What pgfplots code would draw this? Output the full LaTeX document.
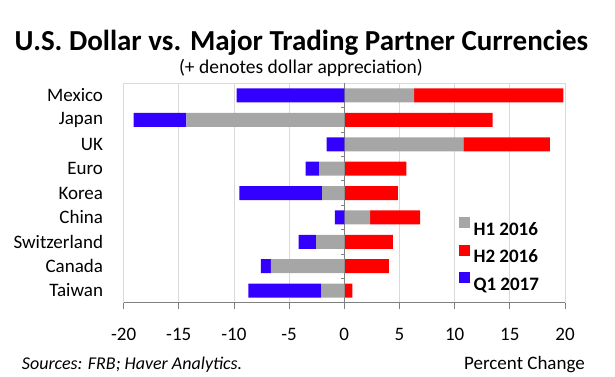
\documentclass[border=0pt]{standalone}
\usepackage{pgfplots}
\pgfplotsset{compat=1.18}
\usepackage{pgfplotstable}
\usepackage{fontspec}
\setmainfont{Carlito}
\definecolor{hgray}{RGB}{166,166,166}
\definecolor{hred}{RGB}{255,0,0}
\definecolor{qblue}{RGB}{51,0,255}
\definecolor{gridgray}{RGB}{217,217,217}
\definecolor{axgray}{RGB}{128,128,128}

\pgfplotstableread{
idx country H1 H2 Q1
0 Taiwan -2.10 0.73 -6.60
1 Canada -6.65 4.05 -0.90
2 Switzerland -2.55 4.40 -1.60
3 China 2.33 4.55 -0.85
4 Korea -2.00 4.85 -7.50
5 Euro -2.25 5.62 -1.25
6 UK 10.78 7.86 -1.60
7 Japan -14.30 13.45 -4.80
8 Mexico 6.32 13.53 -9.75
}\datatable

\pgfplotsset{basestyle/.style={scale only axis, width=441.4pt, height=219.4pt,
  xmin=-20, xmax=20, ymin=-0.5, ymax=8.5, xbar stacked, bar width=14pt}}

\begin{document}
\begin{tikzpicture}
\path[use as bounding box] (-123.6pt,-73.3pt) rectangle (491.4pt,302.7pt);
\begin{axis}[basestyle,
  xtick={-20,-15,...,20},
  xticklabels={-20,-15,-10,-5,0,5,10,15,20},
  ytick={0,...,8},
  yticklabels={Taiwan,Canada,Switzerland,China,Korea,Euro,UK,Japan,Mexico},
  xmajorgrids, grid style={gridgray, line width=0.8pt},
  axis line style={gridgray, line width=0.8pt},
  xtick pos=left, ytick style={draw=none},
  xtick style={axgray, line width=0.8pt},
  tick align=outside, major tick length=6pt,
  ticklabel style={font=\fontsize{19}{22}\selectfont},
  yticklabel style={anchor=east, inner sep=0pt, xshift=-14.4pt},
  xticklabel style={anchor=base, inner sep=0pt, yshift=-31.5pt},
  legend style={at={(rel axis cs:0.7583,0.3906)}, anchor=north west,
    draw=none, fill=none, inner sep=0pt, row sep=8pt, column sep=4pt,
    nodes={inner sep=0pt}, font=\fontsize{19}{22}\selectfont\bfseries},
  legend cell align=left,
  legend image code/.code={\path[#1] (0pt,1.4pt) rectangle (11pt,12.4pt);},
]
\addplot[fill=hgray, draw=none] table[x expr={max(\thisrow{H1},0)}, y=idx]{\datatable};
\addplot[fill=hred, draw=none] table[x expr={max(\thisrow{H2},0)}, y=idx]{\datatable};
\addplot[fill=qblue, draw=none] table[x expr={max(\thisrow{Q1},0)}, y=idx]{\datatable};
\legend{H1 2016, H2 2016, Q1 2017}
\end{axis}
\begin{axis}[basestyle, hide axis, clip=false]
\addplot[fill=hgray, draw=none] table[x expr={min(\thisrow{H1},0)}, y=idx]{\datatable};
\addplot[fill=hred, draw=none] table[x expr={min(\thisrow{H2},0)}, y=idx]{\datatable};
\addplot[fill=qblue, draw=none] table[x expr={min(\thisrow{Q1},0)}, y=idx]{\datatable};
\draw[axgray, line width=0.8pt] (axis cs:-20,-0.5) -- (axis cs:20,-0.5);
\draw[axgray, line width=0.8pt] (axis cs:0,-0.5) -- (axis cs:0,8.5);
\draw[axgray, line width=0.8pt] (axis cs:0,0.5) -- ++(-3pt,0pt);
\draw[axgray, line width=0.8pt] (axis cs:0,1.5) -- ++(-3pt,0pt);
\draw[axgray, line width=0.8pt] (axis cs:0,2.5) -- ++(-3pt,0pt);
\draw[axgray, line width=0.8pt] (axis cs:0,3.5) -- ++(-3pt,0pt);
\draw[axgray, line width=0.8pt] (axis cs:0,4.5) -- ++(-3pt,0pt);
\draw[axgray, line width=0.8pt] (axis cs:0,5.5) -- ++(-3pt,0pt);
\draw[axgray, line width=0.8pt] (axis cs:0,6.5) -- ++(-3pt,0pt);
\draw[axgray, line width=0.8pt] (axis cs:0,7.5) -- ++(-3pt,0pt);
\end{axis}
\node[anchor=base, font=\fontsize{29}{34}\selectfont\bfseries] at (177.9pt,252.7pt) {U.S. Dollar vs. Major Trading Partner Currencies};
\node[anchor=base, font=\fontsize{19.5}{22}\selectfont] at (177.4pt,229.7pt) {(+ denotes dollar appreciation)};
\node[anchor=base west, inner sep=0pt, font=\fontsize{18}{22}\selectfont\itshape] at (-101.9pt,-66.3pt) {Sources: FRB; Haver Analytics.};
\node[anchor=base east, inner sep=0pt, font=\fontsize{19}{22}\selectfont] at (461.4pt,-66.3pt) {Percent Change};
\end{tikzpicture}
\end{document}
